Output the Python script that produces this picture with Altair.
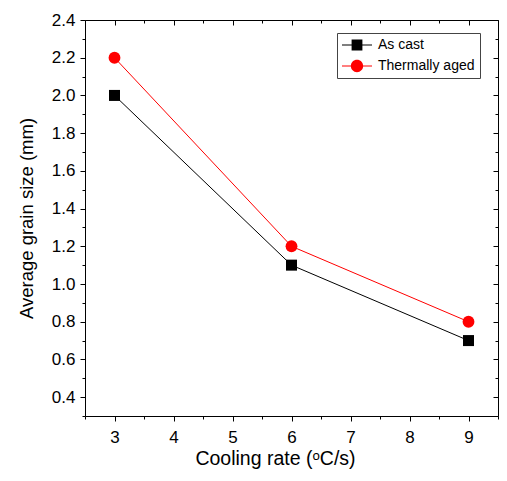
import altair as alt
import pandas as pd

# ---- data ----
rates = [3, 6, 9]
as_cast = [2.0, 1.1, 0.7]
thermally_aged = [2.2, 1.2, 0.8]
series_names = ["As cast", "Thermally aged"]
series_colors = ["black", "red"]

x_major = [3, 4, 5, 6, 7, 8, 9]
x_minor = [2.5, 3.5, 4.5, 5.5, 6.5, 7.5, 8.5, 9.5]
y_major = [0.4, 0.6, 0.8, 1.0, 1.2, 1.4, 1.6, 1.8, 2.0, 2.2, 2.4]
y_minor = [0.3, 0.5, 0.7, 0.9, 1.1, 1.3, 1.5, 1.7, 1.9, 2.1, 2.3]

df = pd.DataFrame({
    "rate": rates + rates,
    "size": as_cast + thermally_aged,
    "series": [series_names[0]] * len(rates) + [series_names[1]] * len(rates),
})

FONT = "Liberation Sans"

xs = alt.Scale(domain=[2.5, 9.5], nice=False, zero=False)
ys = alt.Scale(domain=[0.3, 2.4], nice=False, zero=False)
cs = alt.Scale(domain=series_names, range=series_colors)

# legend symbols: a short line with a marker in the middle
sq_path = ("M-1,-0.035H-0.3V0.035H-1Z M0.3,-0.035H1V0.035H0.3Z "
           "M-0.36,-0.36H0.36V0.36H-0.36Z")
ci_path = ("M-1,-0.035H-0.35V0.035H-1Z M0.35,-0.035H1V0.035H0.35Z "
           "M-0.41,0A0.41,0.41,0,1,1,0.41,0A0.41,0.41,0,1,1,-0.41,0Z")
shape_scale = alt.Scale(domain=series_names, range=[sq_path, ci_path])

base = alt.Chart(df)

common_axis = dict(grid=False, domain=False, tickColor="black", tickWidth=1,
                   labelFont=FONT, labelColor="black", titleFont=FONT,
                   titleColor="black", titleFontWeight="normal")

x_main = alt.Axis(orient="bottom", values=x_major, tickSize=5, labelFontSize=17,
                  labelPadding=8, title="Cooling rate (ᵒC/s)", titleFontSize=19.5,
                  titlePadding=4, titleX=190, **common_axis)
y_main = alt.Axis(orient="left", values=y_major, tickSize=5, labelFontSize=17,
                  labelPadding=5, format=".1f", title="Average grain size (mm)",
                  titleFontSize=18.5, titlePadding=15, **common_axis)

line0 = base.transform_filter(alt.datum.series == series_names[0]).mark_line(
    strokeWidth=1, color=series_colors[0]).encode(
    x=alt.X("rate:Q", scale=xs, axis=x_main),
    y=alt.Y("size:Q", scale=ys, axis=y_main),
)
line1 = base.transform_filter(alt.datum.series == series_names[1]).mark_line(
    strokeWidth=1, color=series_colors[1]).encode(
    x=alt.X("rate:Q", scale=xs, axis=None),
    y=alt.Y("size:Q", scale=ys, axis=None),
)

squares = base.transform_filter(alt.datum.series == series_names[0]).mark_square(
    size=121, opacity=1, color=series_colors[0]).encode(
    x=alt.X("rate:Q", scale=xs, axis=None),
    y=alt.Y("size:Q", scale=ys, axis=None),
)

circles = base.transform_filter(alt.datum.series == series_names[1]).mark_circle(
    size=140, opacity=1, color=series_colors[1]).encode(
    x=alt.X("rate:Q", scale=xs, axis=None),
    y=alt.Y("size:Q", scale=ys, axis=None),
)

leg = dict(orient="none", legendX=252, legendY=13, title=None, padding=5,
           strokeColor="#444", fillColor="white", symbolSize=900,
           symbolOpacity=1, symbolStrokeWidth=0, labelFont=FONT,
           labelFontSize=14, labelColor="black", labelOffset=6, rowPadding=7,
           clipHeight=14)

legend_layer = base.mark_point(filled=True, opacity=0).encode(
    x=alt.X("rate:Q", scale=xs, axis=None),
    y=alt.Y("size:Q", scale=ys, axis=None),
    color=alt.Color("series:N", scale=cs, legend=alt.Legend(**leg)),
    shape=alt.Shape("series:N", scale=shape_scale, legend=alt.Legend(**leg)),
)

minor_ax = dict(labels=False, title=None, grid=False, domain=False,
                tickColor="black", tickWidth=1)

minor_layer = base.mark_point(opacity=0).encode(
    x=alt.X("rate:Q", scale=xs,
            axis=alt.Axis(orient="bottom", values=x_minor, tickSize=3, **minor_ax)),
    y=alt.Y("size:Q", scale=ys,
            axis=alt.Axis(orient="left", values=y_minor, tickSize=3, **minor_ax)),
)

mirror_major = base.mark_point(opacity=0).encode(
    x=alt.X("rate:Q", scale=xs,
            axis=alt.Axis(orient="top", values=x_major, tickSize=5, offset=-5, **minor_ax)),
    y=alt.Y("size:Q", scale=ys,
            axis=alt.Axis(orient="right", values=y_major, tickSize=5, offset=-5, **minor_ax)),
)

mirror_minor = base.mark_point(opacity=0).encode(
    x=alt.X("rate:Q", scale=xs,
            axis=alt.Axis(orient="top", values=x_minor, tickSize=3, offset=-3, **minor_ax)),
    y=alt.Y("size:Q", scale=ys,
            axis=alt.Axis(orient="right", values=y_minor, tickSize=3, offset=-3, **minor_ax)),
)

chart = alt.layer(
    line0, line1, squares, circles, legend_layer, minor_layer, mirror_major, mirror_minor
).resolve_axis(
    x="independent", y="independent"
).properties(
    width=413, height=396,
    padding={"left": 77, "top": 12, "right": 1, "bottom": 53},
    autosize=alt.AutoSizeParams(type="none"),
    background="white",
).configure_view(stroke="black", strokeWidth=1)

chart.save("out.html", embed_options={"renderer": "svg", "actions": False})
